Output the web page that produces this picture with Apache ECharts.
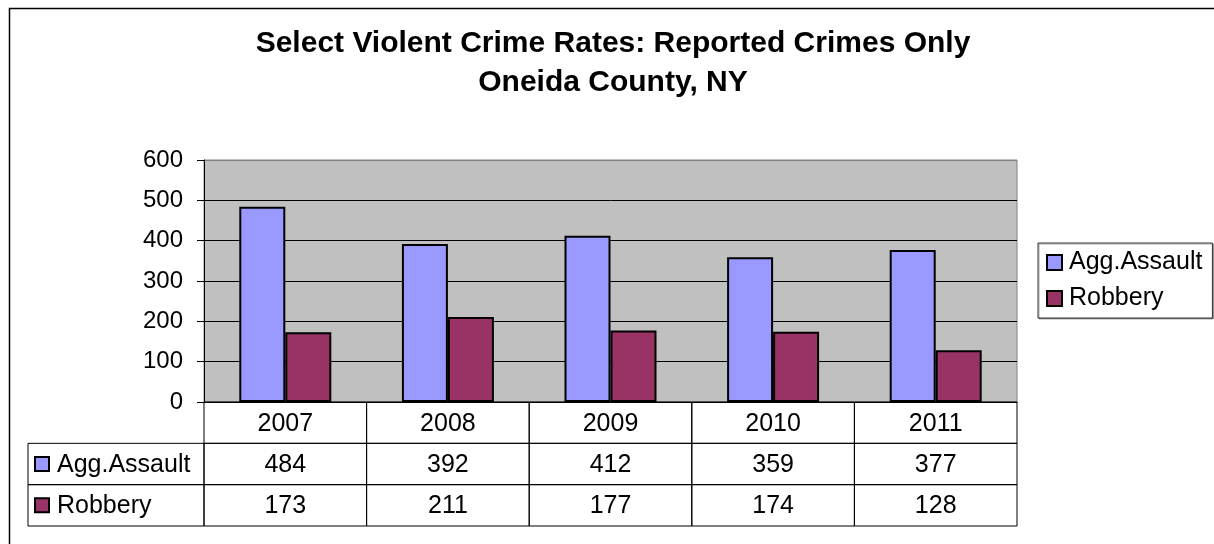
<!DOCTYPE html>
<html>
<head>
<meta charset="utf-8">
<script src="https://cdn.jsdelivr.net/npm/echarts@6/dist/echarts.min.js"></script>
<style>html,body{margin:0;padding:0;background:#fff;}#c{width:1214px;height:544px;}</style>
</head>
<body>
<div id="c"></div>
<script>
var years = ['2007', '2008', '2009', '2010', '2011'];
var seriesNames = ['Agg.Assault', 'Robbery'];
var assault = [484, 392, 412, 359, 377];
var robbery = [173, 211, 177, 174, 128];
var yTicks = [0, 100, 200, 300, 400, 500, 600];
var colors = ['#9999FF', '#993366'];

var FONT = '"Liberation Sans", Arial, sans-serif';
var chart = echarts.init(document.getElementById('c'));

// table cells built from data arrays
var cells = [];
years.forEach(function (y, i) {
  cells.push({ c: i, r: 0, t: y });
  cells.push({ c: i, r: 1, t: String(assault[i]) });
  cells.push({ c: i, r: 2, t: String(robbery[i]) });
});
cells.push({ c: 0, r: 1, label: seriesNames[0], color: colors[0] });
cells.push({ c: 0, r: 2, label: seriesNames[1], color: colors[1] });

var LABEL_COL_W = 176;

function renderCell(params, api) {
  var cell = cells[params.dataIndex];
  var p = api.coord([api.value(0), api.value(1)]);
  var s = api.size([1, 1]);
  var top = p[1] - s[1] / 2;
  if (cell.label) {
    var x1 = p[0] - s[0] / 2;
    var x0 = x1 - LABEL_COL_W;
    return {
      type: 'group',
      children: [
        { type: 'rect', shape: { x: x0, y: top, width: LABEL_COL_W, height: s[1] },
          style: { fill: 'none', stroke: '#000', lineWidth: 1 } },
        { type: 'rect', shape: { x: x0 + 7, y: p[1] - 7, width: 14, height: 14 },
          style: { fill: cell.color, stroke: '#000', lineWidth: 2 } },
        { type: 'text', style: { text: cell.label, x: x0 + 29, y: p[1] + 1, align: 'left', verticalAlign: 'middle',
          fontSize: 25, fontFamily: FONT, fill: '#000' } }
      ]
    };
  }
  return {
    type: 'group',
    children: [
      { type: 'rect', shape: { x: p[0] - s[0] / 2, y: top, width: s[0], height: s[1] },
        style: { fill: 'none', stroke: '#000', lineWidth: 1 } },
      { type: 'text', style: { text: cell.t, x: p[0], y: p[1] + 1, align: 'center', verticalAlign: 'middle',
        fontSize: 25, fontFamily: FONT, fill: '#000' } }
    ]
  };
}

var splitColors = yTicks.map(function (v, i) { return i === yTicks.length - 1 ? '#808080' : '#000'; });

var option = {
  animation: false,
  backgroundColor: '#fff',
  textStyle: { fontFamily: FONT },
  title: {
    text: 'Select Violent Crime Rates: Reported Crimes Only\nOneida County, NY',
    left: 613,
    textAlign: 'center',
    top: 24,
    padding: 0,
    textStyle: { fontSize: 30, fontWeight: 'bold', fontFamily: FONT, color: '#000', lineHeight: 39 }
  },
  legend: {
    data: seriesNames,
    orient: 'vertical',
    left: 1038,
    top: 243,
    padding: [7, 10, 7, 8],
    itemGap: 11,
    itemWidth: 15,
    itemHeight: 15,
    icon: 'rect',
    backgroundColor: '#fff',
    borderColor: '#333',
    borderWidth: 1,
    shadowColor: 'rgba(0,0,0,0.35)',
    shadowOffsetX: 1,
    shadowOffsetY: 1,
    itemStyle: { borderColor: '#000', borderWidth: 2 },
    textStyle: { fontSize: 25, fontFamily: FONT, color: '#000', padding: [0, 0, 0, 2] }
  },
  grid: [
    { left: 204, right: 197, top: 160, bottom: 142, show: true, backgroundColor: '#C0C0C0', borderColor: '#808080', borderWidth: 1 },
    { left: 204, right: 197, top: 402, bottom: 18 }
  ],
  xAxis: [
    { type: 'category', gridIndex: 0, data: years,
      axisLine: { lineStyle: { color: '#000', width: 1 } },
      axisTick: { show: false }, axisLabel: { show: false } },
    { type: 'category', gridIndex: 1, data: years, show: false }
  ],
  yAxis: [
    { type: 'value', gridIndex: 0, min: yTicks[0], max: yTicks[yTicks.length - 1], interval: 100,
      axisLine: { show: true, lineStyle: { color: '#000', width: 1 } },
      axisTick: { show: true, length: 7, inside: false, lineStyle: { color: '#000' } },
      axisLabel: { fontSize: 24, color: '#000', fontFamily: FONT, margin: 21 },
      splitLine: { show: true, lineStyle: { color: splitColors, width: 1 } } },
    { type: 'category', gridIndex: 1, data: ['header'].concat(seriesNames), inverse: true, show: false }
  ],
  series: [
    { name: seriesNames[0], type: 'bar', data: assault, barWidth: 46, barGap: '0%',
      itemStyle: { color: colors[0], borderColor: '#000', borderWidth: 2 } },
    { name: seriesNames[1], type: 'bar', data: robbery, barWidth: 46, barGap: '0%',
      itemStyle: { color: colors[1], borderColor: '#000', borderWidth: 2 } },
    { name: 'table', type: 'custom', xAxisIndex: 1, yAxisIndex: 1,
      data: cells.map(function (c) { return [c.c, c.r]; }),
      renderItem: renderCell, silent: true, z: 5 }
  ],
  graphic: [
    { type: 'rect', left: 7, top: 6, shape: { width: 1300, height: 700 }, silent: true, z: -1,
      style: { fill: 'none', stroke: '#000', lineWidth: 1.5 } }
  ]
};
chart.setOption(option);
</script>
</body>
</html>
